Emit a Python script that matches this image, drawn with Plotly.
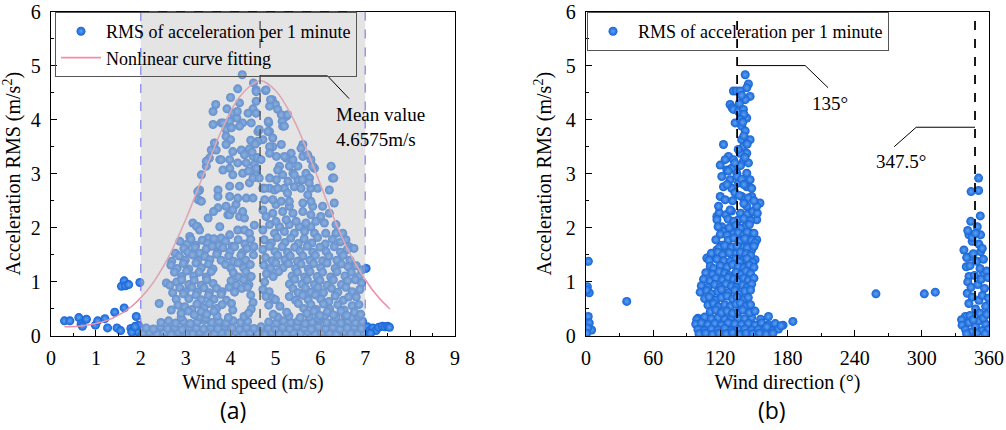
import plotly.graph_objects as go

# ---------------- (a) acceleration RMS vs wind speed ----------------
speed_calm = [
    (0.30, 0.28), (0.42, 0.28), (0.62, 0.34), (0.67, 0.22), (0.70, 0.18), (0.79, 0.31),
    (0.99, 0.20), (1.04, 0.28), (1.20, 0.32), (1.26, 0.15), (1.42, 0.44), (1.47, 0.15),
    (1.55, 0.10), (1.57, 0.92), (1.63, 1.02), (1.66, 0.93), (1.73, 0.95), (1.63, 0.52),
    (1.78, 0.14), (1.83, 0.10), (1.88, 0.18), (1.90, 0.36), (1.92, 0.08), (1.98, 0.99),
    (1.80, 0.07), (1.95, 0.20), (1.87, 0.17),
]

speed_gust = [
    (7.02, 1.25), (7.05, 0.17), (7.10, 0.10), (7.17, 0.15), (7.24, 0.10), (7.30, 0.16),
    (7.38, 0.18), (7.44, 0.17), (7.50, 0.18), (7.54, 0.16), (7.12, 0.05),
]

speed_upper = [
    (4.26, 4.83), (4.51, 4.68), (4.57, 4.55), (4.78, 4.54), (4.16, 4.57), (4.00, 4.41),
    (3.67, 4.28), (3.61, 4.15), (3.92, 4.20), (4.20, 4.31), (4.57, 4.34), (4.93, 4.37),
    (5.00, 4.28), (4.87, 4.25), (5.05, 4.19), (4.50, 4.20), (4.39, 4.12), (4.57, 4.12),
    (4.05, 4.12), (4.14, 4.03), (5.24, 4.06), (5.15, 3.97), (3.98, 3.97), (3.79, 3.94),
    (4.27, 3.94), (4.46, 3.94), (4.85, 3.94), (5.16, 3.88), (3.61, 3.91), (3.90, 3.82),
    (4.20, 3.88), (4.87, 3.78), (4.61, 3.78), (4.72, 3.63), (4.94, 3.66), (4.61, 3.60),
    (3.90, 3.69), (4.00, 3.63), (3.64, 3.57), (3.57, 3.44), (3.90, 3.54), (3.68, 3.44),
    (5.61, 3.54), (5.13, 3.54), (4.94, 3.50), (4.42, 3.46), (4.24, 3.44), (4.05, 3.41),
    (3.53, 3.29), (3.35, 2.98), (3.46, 3.14), (3.76, 3.26), (3.98, 3.26), (4.31, 3.35),
    (4.50, 3.32), (4.53, 3.17), (4.35, 3.20), (4.16, 3.20), (3.98, 3.10), (3.83, 3.07),
    (4.05, 2.98), (4.27, 3.01), (4.57, 2.98), (4.42, 2.83), (4.20, 2.77), (3.98, 2.77),
    (3.72, 2.70), (3.31, 2.70), (3.28, 2.52), (5.02, 3.32), (5.24, 3.29), (5.39, 3.26),
    (5.61, 3.32), (5.79, 3.26), (5.50, 3.14), (5.31, 3.14), (5.09, 3.14), (5.16, 2.98),
    (5.39, 3.01), (5.68, 3.01), (5.87, 3.10), (5.02, 2.89), (5.28, 2.86), (5.50, 2.89),
    (5.76, 2.92), (4.87, 2.73), (4.72, 2.73), (4.98, 2.70), (5.20, 2.73), (5.42, 2.76),
    (5.57, 2.73), (5.79, 2.73), (6.24, 3.14), (6.27, 2.92), (6.20, 2.70), (3.72, 2.58),
    (3.98, 2.58), (4.16, 2.55), (4.35, 2.55), (4.50, 2.55), (4.76, 2.52), (4.94, 2.52),
    (5.13, 2.49), (5.31, 2.49), (5.61, 2.46), (5.79, 2.49), (3.27, 2.67), (3.35, 2.49),
    (4.45, 3.62), (4.55, 3.55), (4.48, 3.40), (4.60, 3.30), (4.40, 3.05), (4.58, 3.10),
    (4.50, 2.92), (4.57, 4.52), (4.79, 4.55), (4.89, 4.37), (5.13, 4.09), (5.27, 4.09),
    (5.20, 3.88), (4.84, 3.97), (4.64, 3.82), (4.83, 3.78), (4.87, 3.50), (4.87, 3.38),
    (5.35, 3.38), (5.20, 3.32), (5.57, 3.47), (5.72, 3.35), (5.83, 3.14), (6.30, 2.92),
    (5.05, 3.07), (5.42, 2.98), (4.87, 2.92), (4.68, 3.26), (4.64, 2.92), (5.60, 2.89),
    (5.75, 2.83), (5.94, 2.73), (5.27, 2.64), (4.76, 2.73), (5.05, 2.73), (5.72, 2.61),
    (3.83, 3.94), (4.02, 3.85), (3.79, 3.26), (3.46, 3.23), (4.15, 4.15),
]

speed_mid_left = [
    (3.16, 2.09), (3.27, 2.02), (3.50, 2.18), (3.94, 2.24), (4.20, 2.21), (4.31, 2.18),
    (3.76, 2.02), (3.98, 1.87), (4.16, 1.96), (4.31, 1.96), (4.53, 2.05), (3.79, 1.81),
    (3.50, 1.81), (4.42, 1.90), (3.90, 2.40), (4.27, 2.30), (3.72, 2.37), (4.12, 2.43),
    (3.98, 2.24), (3.24, 2.03), (3.31, 1.96), (3.09, 1.84), (3.62, 2.30), (4.05, 2.33),
    (2.87, 1.75), (3.03, 1.70), (3.12, 1.79), (3.22, 1.68), (3.37, 1.77), (3.49, 1.71),
    (3.63, 1.80), (3.73, 1.67), (3.89, 1.75), (4.04, 1.66), (4.17, 1.78), (4.32, 1.70),
    (4.45, 1.79), (2.77, 1.53), (2.96, 1.62), (3.05, 1.55), (3.21, 1.64), (3.31, 1.53),
    (3.46, 1.61), (3.59, 1.66), (3.71, 1.54), (3.83, 1.63), (3.99, 1.56), (4.09, 1.65),
    (4.26, 1.54), (4.37, 1.62), (4.52, 1.65), (2.69, 1.38), (2.86, 1.48), (2.99, 1.40),
    (3.15, 1.50), (3.27, 1.39), (3.43, 1.47), (3.54, 1.41), (3.69, 1.51), (3.79, 1.40),
    (3.96, 1.48), (4.07, 1.38), (4.23, 1.49), (4.34, 1.40), (4.51, 1.50), (2.67, 1.31),
    (2.81, 1.25), (2.95, 1.34), (3.07, 1.24), (3.23, 1.35), (3.35, 1.26), (3.51, 1.33),
    (3.61, 1.24), (3.89, 1.32), (4.01, 1.25), (4.17, 1.35), (4.29, 1.26), (4.44, 1.32),
    (2.75, 1.18), (2.91, 1.10), (3.02, 1.20), (3.18, 1.11), (3.30, 1.18), (3.46, 1.09),
    (3.57, 1.19), (4.06, 1.17), (4.18, 1.09), (4.34, 1.19), (4.46, 1.10), (2.57, 0.98),
    (2.65, 0.94), (2.80, 1.00), (2.91, 1.04), (3.07, 0.95), (3.19, 1.03), (3.35, 0.94),
    (3.47, 1.04), (3.61, 0.97), (4.01, 1.02), (4.13, 0.94), (4.29, 1.04), (4.41, 0.95),
    (2.71, 0.80), (2.87, 0.89), (2.99, 0.82), (3.14, 0.90), (3.26, 0.81), (3.41, 0.89),
    (3.53, 0.80), (3.69, 0.88), (3.81, 0.82), (3.97, 0.90), (4.09, 0.81), (4.25, 0.88),
    (4.38, 0.90), (2.79, 0.68), (2.95, 0.78), (3.07, 0.69), (3.23, 0.76), (3.35, 0.67),
    (3.51, 0.75), (3.63, 0.68), (3.79, 0.77), (3.91, 0.66), (4.45, 0.76), (4.50, 0.62),
    (2.41, 0.60), (2.83, 0.57), (2.68, 0.48), (2.98, 0.54), (3.14, 0.49), (3.25, 0.59),
    (3.41, 0.52), (3.53, 0.60), (3.69, 0.51), (3.81, 0.58), (4.02, 0.60), (4.05, 0.48),
    (4.46, 0.50), (2.90, 0.42), (3.06, 0.46), (3.19, 0.39), (3.35, 0.45), (3.47, 0.40),
    (3.63, 0.46), (4.40, 0.42),
]

speed_mid_right = [
    (4.72, 2.33), (4.94, 2.27), (5.16, 2.30), (5.39, 2.27), (5.61, 2.30), (5.79, 2.24),
    (6.01, 2.21), (4.87, 2.06), (5.09, 2.02), (5.31, 2.06), (5.53, 2.02), (5.79, 2.02),
    (6.12, 1.90), (6.35, 1.90), (6.05, 2.40), (6.31, 2.46), (6.20, 2.27), (6.35, 2.06),
    (4.79, 2.21), (5.01, 2.12), (5.24, 2.15), (5.46, 2.12), (5.68, 2.09), (5.90, 2.12),
    (6.09, 2.09), (4.72, 1.96), (4.98, 1.90), (5.20, 1.93), (5.42, 1.90), (5.65, 1.93),
    (5.87, 1.90), (6.50, 1.90), (6.57, 1.78), (6.64, 1.65), (5.01, 2.43), (5.31, 2.40),
    (5.83, 2.40), (4.75, 1.78), (4.91, 1.72), (5.04, 1.82), (5.21, 1.73), (5.34, 1.81),
    (5.51, 1.71), (5.64, 1.80), (5.81, 1.72), (5.94, 1.82), (6.11, 1.70), (6.27, 1.79),
    (6.45, 1.74), (6.75, 1.62), (4.72, 1.60), (4.87, 1.66), (4.99, 1.56), (5.15, 1.65),
    (5.27, 1.55), (5.43, 1.64), (5.55, 1.57), (5.71, 1.66), (5.83, 1.55), (5.99, 1.64),
    (6.13, 1.56), (6.31, 1.65), (6.45, 1.55), (6.60, 1.60), (4.78, 1.45), (4.93, 1.39),
    (5.05, 1.49), (5.21, 1.41), (5.33, 1.48), (5.49, 1.38), (5.61, 1.48), (5.77, 1.40),
    (5.89, 1.49), (6.05, 1.39), (6.19, 1.47), (6.37, 1.40), (6.51, 1.49), (6.66, 1.40),
    (4.74, 1.31), (4.89, 1.25), (5.01, 1.35), (5.17, 1.26), (5.29, 1.34), (5.45, 1.25),
    (5.57, 1.33), (5.73, 1.24), (5.85, 1.34), (6.01, 1.26), (6.15, 1.35), (6.33, 1.25),
    (6.47, 1.33), (6.62, 1.28), (6.80, 1.30), (6.92, 1.22), (4.80, 1.15), (4.95, 1.10),
    (5.07, 1.19), (5.37, 1.11), (5.49, 1.18), (5.65, 1.09), (5.77, 1.19), (5.93, 1.10),
    (6.05, 1.18), (6.23, 1.09), (6.37, 1.19), (6.55, 1.11), (6.69, 1.18), (6.86, 1.10),
    (4.76, 1.00), (5.31, 0.96), (5.43, 1.05), (5.59, 0.96), (5.71, 1.04), (5.87, 0.95),
    (5.99, 1.03), (6.15, 0.94), (6.29, 1.04), (6.47, 0.95), (6.61, 1.02), (6.78, 1.04),
    (6.92, 0.98), (4.72, 0.86), (4.86, 0.82), (5.39, 0.88), (5.51, 0.80), (5.67, 0.89),
    (5.79, 0.81), (5.95, 0.90), (6.07, 0.80), (6.25, 0.88), (6.39, 0.81), (6.57, 0.90),
    (6.71, 0.82), (6.88, 0.86), (4.79, 0.73), (4.94, 0.70), (5.00, 0.67), (5.31, 0.73),
    (5.45, 0.66), (5.61, 0.75), (5.73, 0.67), (5.89, 0.76), (6.01, 0.68), (6.19, 0.64),
    (6.33, 0.74), (6.51, 0.66), (6.63, 0.72), (6.80, 0.72), (4.85, 0.57), (5.10, 0.55),
    (5.51, 0.60), (5.63, 0.51), (5.79, 0.58), (5.91, 0.49), (6.07, 0.59), (6.21, 0.50),
    (6.39, 0.58), (6.53, 0.48), (6.71, 0.56), (6.86, 0.58), (5.70, 0.42), (5.86, 0.46),
    (5.99, 0.38), (6.16, 0.45), (6.29, 0.39), (6.46, 0.46), (6.59, 0.38), (6.76, 0.44),
    (6.90, 0.40), (5.25, 0.44), (4.95, 0.40),
]

speed_base = [
    (2.05, 0.05), (2.20, 0.07), (2.36, 0.04), (2.52, 0.06), (2.68, 0.03), (2.84, 0.07),
    (3.00, 0.05), (3.16, 0.04), (3.32, 0.07), (3.48, 0.05), (3.64, 0.03), (3.80, 0.06),
    (3.96, 0.05), (4.12, 0.08), (4.28, 0.04), (4.44, 0.06), (4.60, 0.05), (4.76, 0.03),
    (4.92, 0.07), (5.08, 0.05), (5.24, 0.04), (5.40, 0.06), (5.56, 0.05), (5.72, 0.08),
    (5.88, 0.04), (6.04, 0.06), (6.20, 0.05), (6.36, 0.03), (6.52, 0.07), (6.68, 0.05),
    (6.84, 0.04), (6.98, 0.06), (2.12, 0.15), (2.28, 0.13), (2.44, 0.17), (2.60, 0.14),
    (2.76, 0.16), (2.92, 0.12), (3.08, 0.17), (3.24, 0.15), (3.40, 0.13), (3.56, 0.16),
    (3.72, 0.14), (3.88, 0.18), (4.04, 0.15), (4.20, 0.13), (4.36, 0.16), (4.52, 0.14),
    (4.68, 0.17), (4.84, 0.15), (5.00, 0.13), (5.16, 0.16), (5.32, 0.14), (5.48, 0.18),
    (5.64, 0.15), (5.80, 0.13), (5.96, 0.17), (6.12, 0.14), (6.28, 0.16), (6.44, 0.13),
    (6.60, 0.15), (6.76, 0.17), (6.92, 0.14), (2.45, 0.25), (2.62, 0.28), (2.78, 0.24),
    (2.95, 0.27), (3.10, 0.23), (3.26, 0.26), (3.42, 0.29), (3.58, 0.25), (3.74, 0.27),
    (3.90, 0.24), (4.06, 0.28), (4.22, 0.25), (4.38, 0.27), (4.85, 0.26), (5.02, 0.24),
    (5.18, 0.28), (5.34, 0.25), (5.50, 0.27), (5.66, 0.23), (5.82, 0.26), (5.98, 0.29),
    (6.14, 0.25), (6.30, 0.27), (6.46, 0.24), (6.62, 0.28), (6.78, 0.25), (6.94, 0.27),
    (2.90, 0.35), (3.30, 0.36), (3.45, 0.33), (3.70, 0.37), (3.95, 0.34), (4.30, 0.36),
    (5.05, 0.35), (5.30, 0.37), (5.55, 0.34), (5.75, 0.36), (5.95, 0.33), (6.10, 0.38),
    (6.35, 0.35), (6.55, 0.37), (6.70, 0.34), (6.85, 0.36),
]

# Gaussian fit
fit_speed = [0.3, 0.6, 1.0, 1.4, 1.8, 2.2, 2.6, 3.0, 3.4, 3.8, 4.2, 4.6575,
             5.0, 5.4, 5.8, 6.2, 6.6, 7.0, 7.3, 7.55]
fit_rms = [0.17, 0.18, 0.23, 0.34, 0.55, 0.90, 1.43, 2.15, 2.99, 3.80, 4.42, 4.72,
           4.54, 4.01, 3.23, 2.38, 1.62, 1.04, 0.71, 0.50]

mean_speed = 4.6575
band_speed = [2, 7]

# ---------------- (b) acceleration RMS vs wind direction ----------------
dir_north = [
    (2.1, 1.38), (1.2, 0.91), (2.9, 0.80), (0.8, 0.85), (2.0, 0.36), (2.9, 0.24),
    (5.0, 0.11), (1.5, 0.15), (0.5, 0.05),
]

dir_isolated = [(36.4, 0.64), (259.0, 0.78), (302.2, 0.78), (312.0, 0.81), (184.8, 0.27)]

dir_main_upper = [
    (142.2, 4.83), (145.1, 4.66), (143.6, 4.59), (131.7, 4.53), (134.5, 4.53), (137.7, 4.53),
    (146.6, 4.43), (142.2, 4.37), (128.7, 4.28), (130.5, 4.22), (131.7, 4.19), (136.2, 4.15),
    (140.6, 4.19), (143.6, 4.03), (133.2, 3.94), (139.1, 3.88), (142.2, 3.79), (146.6, 3.63),
    (139.1, 3.63), (122.8, 3.54), (140.6, 3.50), (143.6, 3.38), (137.7, 3.38), (127.3, 3.32),
    (124.3, 3.26), (119.9, 3.16), (131.7, 3.26), (140.6, 3.23), (145.1, 3.20), (125.8, 3.07),
    (134.7, 3.01), (143.6, 3.01), (121.3, 2.95), (146.6, 2.89), (128.7, 2.89), (136.2, 2.83),
    (122.8, 2.76), (143.6, 2.76), (148.0, 2.73), (130.2, 2.73), (148.0, 2.58), (139.1, 2.58),
    (119.9, 2.58), (124.3, 2.52), (155.4, 2.46), (152.5, 2.40), (118.4, 2.40), (128.7, 2.33),
    (143.6, 2.40), (137.0, 4.30), (139.0, 4.45), (141.0, 4.10), (138.0, 4.00), (140.0, 3.95),
    (141.0, 3.70), (144.0, 3.55), (136.0, 3.45), (142.0, 3.30), (138.0, 3.15), (130.0, 3.10),
    (133.0, 3.20), (127.0, 3.05), (135.0, 2.95), (139.0, 2.90), (141.0, 2.80), (126.0, 2.80),
    (133.0, 2.65), (137.0, 2.60), (145.0, 2.55), (131.0, 2.50), (150.0, 2.50), (141.0, 2.45),
]

dir_main_mid = [
    (145.1, 2.21), (116.9, 2.21), (121.3, 2.02), (136.2, 2.15), (152.5, 2.15), (142.2, 2.02),
    (148.0, 1.90), (131.7, 1.90), (122.8, 1.93), (152.5, 1.78), (145.1, 1.75), (121.3, 1.68),
    (116.9, 1.59), (125.8, 1.59), (139.1, 1.65), (148.0, 1.59), (113.9, 1.47), (133.2, 1.53),
    (140.6, 1.41), (151.0, 1.41), (107.9, 1.44),
    (119, 2.28), (125, 2.24), (130, 2.31), (138, 2.27), (144, 2.25), (149, 2.30), (153, 2.27),
    (117, 2.15), (127, 2.16), (132, 2.12), (141, 2.17), (147, 2.13),
    (118, 2.02), (128, 2.00), (134, 2.05), (138, 1.99), (146, 2.06),
    (120, 1.88), (126, 1.86), (136, 1.91), (141, 1.87), (144, 1.92), (150, 1.90),
    (116, 1.78), (127, 1.77), (132, 1.81), (137, 1.75), (142, 1.80), (148, 1.77), (151, 1.72),
    (119, 1.63), (124, 1.67), (130, 1.64), (135, 1.66), (144, 1.63), (150, 1.66),
    (112, 1.53), (118, 1.55), (122, 1.50), (128, 1.54), (138, 1.55), (143, 1.52), (147, 1.49),
    (110, 1.40), (117, 1.42), (123, 1.39), (129, 1.38), (134, 1.43), (137, 1.37), (144, 1.43), (149, 1.36),
    (111, 1.29), (114, 1.25), (120, 1.30), (126, 1.27), (131, 1.32), (136, 1.28), (141, 1.26), (146, 1.31), (150, 1.27),
    (107, 1.17), (113, 1.14), (119, 1.19), (124, 1.16), (128, 1.12), (134, 1.18), (139, 1.14), (143, 1.20), (147, 1.15),
    (105, 1.05), (111, 1.02), (116, 1.07), (122, 1.04), (127, 1.08), (132, 1.05), (136, 1.01), (141, 1.07), (145, 1.03), (150, 1.07),
    (103, 0.93), (109, 0.90), (115, 0.95), (120, 0.91), (125, 0.96), (130, 0.92), (134, 0.89), (140, 0.94), (144, 0.90), (148, 0.96),
    (102, 0.81), (108, 0.84), (112, 0.78), (118, 0.82), (121, 0.86), (127, 0.80), (133, 0.84), (137, 0.78), (142, 0.83), (147, 0.85),
    (106, 0.69), (110, 0.72), (116, 0.66), (121, 0.71), (126, 0.74), (131, 0.68), (135, 0.72), (141, 0.67), (145, 0.71),
    (109, 0.57), (114, 0.60), (118, 0.54), (124, 0.58), (129, 0.55), (134, 0.59), (138, 0.61), (143, 0.55), (147, 0.58),
    (111, 0.45), (116, 0.48), (121, 0.43), (126, 0.46), (131, 0.42), (136, 0.45), (140, 0.48), (146, 0.43), (151, 0.46),
]

dir_main_base = [
    (100, 0.33), (106, 0.35), (112, 0.32), (118, 0.34), (124, 0.31), (130, 0.35), (136, 0.33),
    (142, 0.32), (148, 0.34), (156, 0.31), (163, 0.36), (98.9, 0.30),
    (98, 0.22), (103, 0.24), (109, 0.21), (115, 0.23), (121, 0.20), (127, 0.24), (133, 0.22),
    (139, 0.21), (145, 0.23), (151, 0.20), (157, 0.24), (163, 0.21), (169, 0.23), (176, 0.20),
    (100, 0.12), (106, 0.10), (112, 0.13), (118, 0.11), (124, 0.14), (130, 0.10), (136, 0.12),
    (142, 0.13), (148, 0.11), (154, 0.12), (160, 0.14), (166, 0.10), (172, 0.13),
    (101, 0.04), (107, 0.05), (113, 0.03), (119, 0.05), (125, 0.04), (131, 0.06), (137, 0.03),
    (143, 0.05), (149, 0.04), (155, 0.05), (161, 0.03), (167, 0.05), (174.3, 0.19), (161.5, 0.17),
]

dir_northwest = [
    (350.7, 2.92), (344.0, 2.67), (350.7, 2.69), (352.2, 2.22), (343.7, 2.12), (349.5, 2.02),
    (342.1, 1.87), (352.5, 1.87), (345.0, 1.75), (337.6, 1.59), (352.5, 1.56), (343.7, 1.47),
    (339.7, 1.28), (355.2, 1.16), (342.1, 1.10), (340.6, 0.79), (338.9, 0.36), (335.5, 0.30),
    (341, 1.95), (345, 1.82), (348, 1.90), (351, 1.70), (354, 1.62),
    (340, 1.45), (343, 1.30), (346, 1.52), (349, 1.38), (352, 1.25), (355, 1.42), (358, 1.20),
    (341, 1.00), (344, 0.90), (347, 1.12), (350, 0.95), (353, 1.05), (356, 0.88), (359, 1.08),
    (342, 0.60), (345, 0.72), (348, 0.50), (351, 0.66), (354, 0.75), (357, 0.55), (359.5, 0.70),
    (336, 0.20), (339, 0.12), (342, 0.25), (345, 0.08), (348, 0.18), (351, 0.28), (354, 0.10),
    (357, 0.22), (359.5, 0.12), (340, 0.04), (343, 0.38), (346, 0.30), (349, 0.05),
    (352, 0.42), (355, 0.33), (358, 0.40), (356.5, 0.04),
]

heading_main = 135
heading_second = 347.5


def unzip(*groups):
    xs, ys = [], []
    for g in groups:
        for x, y in g:
            xs.append(x)
            ys.append(y)
    return xs, ys


speed_x, speed_y = unzip(speed_calm, speed_base, speed_mid_left, speed_mid_right,
                         speed_upper, speed_gust)
dir_x, dir_y = unzip(dir_north, dir_isolated, dir_main_base, dir_main_mid,
                     dir_main_upper, dir_northwest)

SERIF = "Liberation Serif"
BLUE = "#1463d6"
sphere = dict(size=9, color=BLUE, line=dict(width=0),
              gradient=dict(type="radial", color="#5fa2f2"))

fig = go.Figure()
fig.add_trace(go.Scatter(
    x=speed_x, y=speed_y, mode="markers", marker=sphere,
    name="RMS of acceleration per 1 minute", xaxis="x", yaxis="y", legend="legend"))
fig.add_trace(go.Scatter(
    x=fit_speed, y=fit_rms, mode="lines", line=dict(color="#ef8fa8", width=1.6, shape="spline"),
    name="Nonlinear curve fitting", xaxis="x", yaxis="y", legend="legend"))
fig.add_trace(go.Scatter(
    x=dir_x, y=dir_y, mode="markers", marker=sphere,
    name="RMS of acceleration per 1 minute", xaxis="x2", yaxis="y2", legend="legend2"))

axis_common = dict(
    showline=True, linecolor="black", linewidth=1.3, mirror=True,
    ticks="inside", ticklen=6, tickwidth=1.2, tickcolor="black",
    showgrid=False, zeroline=False, automargin=False,
    tickfont=dict(family=SERIF, size=20, color="black"),
    title_font=dict(family=SERIF, size=20, color="black"),
)

ydom = [94 / 430, 418.5 / 430]
fig.update_layout(
    width=1006, height=430,
    margin=dict(l=0, r=0, t=0, b=0, autoexpand=False),
    paper_bgcolor="white", plot_bgcolor="white",
    xaxis=dict(domain=[51 / 1006, 455 / 1006], range=[0, 9], dtick=1,
               minor=dict(ticks="inside", ticklen=3, dtick=0.5, tickcolor="black"),
               title=dict(text="Wind speed (m/s)", standoff=6), ticklabelstandoff=4,
               anchor="y", **axis_common),
    yaxis=dict(domain=ydom, range=[0, 6], dtick=1,
               minor=dict(ticks="inside", ticklen=3, dtick=0.5, tickcolor="black"),
               title=dict(text="Acceleration RMS (m/s<sup>2</sup>)", standoff=8),
               ticklabelstandoff=5, anchor="x", **axis_common),
    xaxis2=dict(domain=[586 / 1006, 989 / 1006], range=[0, 360], dtick=60,
                minor=dict(ticks="inside", ticklen=3, dtick=30, tickcolor="black"),
                title=dict(text="Wind direction (°)", standoff=6), ticklabelstandoff=4,
                anchor="y2", **axis_common),
    yaxis2=dict(domain=ydom, range=[0, 6], dtick=1,
                minor=dict(ticks="inside", ticklen=3, dtick=0.5, tickcolor="black"),
                title=dict(text="Acceleration RMS (m/s<sup>2</sup>)", standoff=8),
                ticklabelstandoff=5, anchor="x2", **axis_common),
    legend=dict(x=55 / 1006, y=1 - 12 / 430, xanchor="left", yanchor="top",
                bgcolor="rgba(0,0,0,0)", bordercolor="#555555", borderwidth=1,
                font=dict(family=SERIF, size=18, color="black"), itemwidth=40,
                tracegroupgap=0),
    legend2=dict(x=587 / 1006, y=1 - 12 / 430, xanchor="left", yanchor="top",
                 bgcolor="rgba(0,0,0,0)", bordercolor="#555555", borderwidth=1,
                 font=dict(family=SERIF, size=18, color="black"), itemwidth=40),
    showlegend=True,
)

# shaded wind-speed band, drawn over the points so they appear faded
fig.add_shape(type="rect", xref="x", yref="y", x0=band_speed[0], x1=band_speed[1], y0=0, y1=6,
              fillcolor="rgba(197,197,197,0.46)", layer="above",
              line=dict(color="rgba(115,115,235,0.9)", width=1.2, dash="dash"))
fig.add_shape(type="line", xref="x", yref="y", x0=mean_speed, x1=mean_speed, y0=0, y1=6,
              layer="above", line=dict(color="#4a4a4a", width=1.3, dash="dash"))
for h in (heading_main, heading_second):
    fig.add_shape(type="line", xref="x2", yref="y2", x0=h, x1=h, y0=0, y1=6,
                  layer="above", line=dict(color="black", width=1.8, dash="dash"))

# leader lines for the labels
leader = dict(color="black", width=1)
fig.add_shape(type="path", xref="x", yref="y", layer="above", line=leader,
              path=f"M {mean_speed},4.81 L 6.16,4.81 L 6.64,4.39")
fig.add_shape(type="path", xref="x2", yref="y2", layer="above", line=leader,
              path=f"M {heading_main},5.0 L 195.8,5.0 L 216.3,4.59")
fig.add_shape(type="path", xref="x2", yref="y2", layer="above", line=leader,
              path=f"M {heading_second},3.86 L 295,3.86 L 275.3,3.5")

label_font = dict(family=SERIF, size=19, color="black")
fig.add_annotation(x=6.3, y=4.09, xref="x", yref="y", text="Mean value",
                   showarrow=False, xanchor="left", font=label_font)
fig.add_annotation(x=6.3, y=3.63, xref="x", yref="y", text=f"{mean_speed}m/s",
                   showarrow=False, xanchor="left", font=label_font)
fig.add_annotation(x=218, y=4.30, xref="x2", yref="y2", text=f"{heading_main}°",
                   showarrow=False, font=label_font)
fig.add_annotation(x=281.6, y=3.22, xref="x2", yref="y2", text=f"{heading_second}°",
                   showarrow=False, font=label_font)

panel_font = dict(family="Open Sans", size=23, color="black")
fig.add_annotation(x=233 / 1006, y=1 - 410 / 430, xref="paper", yref="paper", text="(a)",
                   showarrow=False, xanchor="center", yanchor="middle", font=panel_font)
fig.add_annotation(x=772 / 1006, y=1 - 410 / 430, xref="paper", yref="paper", text="(b)",
                   showarrow=False, xanchor="center", yanchor="middle", font=panel_font)

fig.write_html("out.html")
